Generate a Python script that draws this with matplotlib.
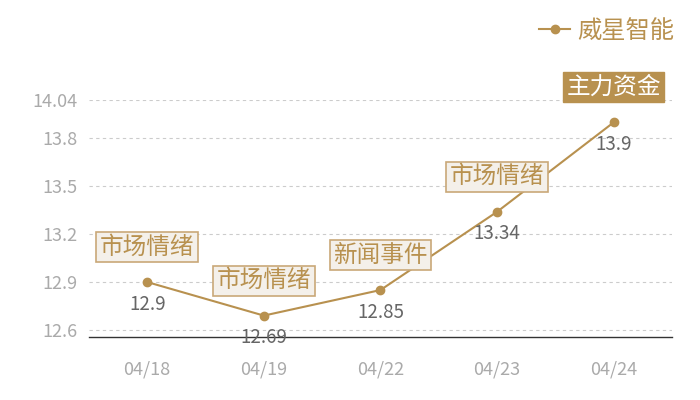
import matplotlib
matplotlib.use("Agg")
import matplotlib.pyplot as plt

plt.rcParams['font.family'] = ['Noto Sans CJK SC', 'DejaVu Sans']

# data
dates = ["04/18", "04/19", "04/22", "04/23", "04/24"]
prices = [12.9, 12.69, 12.85, 13.34, 13.9]
events = ["市场情绪", "市场情绪", "新闻事件", "市场情绪", "主力资金"]
highlight = [False, False, False, False, True]
yticks = [12.6, 12.9, 13.2, 13.5, 13.8, 14.04]
series_name = "威星智能"

gold = "#b8914f"

fig = plt.figure(figsize=(7, 4), dpi=100)
ax = fig.add_axes([0.127, 0.1575, 0.833, 0.5925])

x = list(range(len(dates)))
ax.plot(x, prices, color=gold, lw=1.5, marker="o", ms=6, label=series_name, zorder=3)

# value labels under points
for xi, v in zip(x, prices):
    ax.annotate(f"{v:g}", (xi, v), xytext=(0, -22), textcoords="offset pixels",
                ha="center", va="center", fontsize=13.5, color="#666666", zorder=4)

# event boxes above points
for xi, v, ev, hl in zip(x, prices, events, highlight):
    if hl:
        box = dict(boxstyle="square,pad=0.15", fc=gold, ec=gold, lw=1)
        tc = "white"
    else:
        box = dict(boxstyle="square,pad=0.15", fc="#f4f0ea", ec="#c9a878", lw=1.2)
        tc = gold
    ax.annotate(ev, (xi, v), xytext=(0, 35), textcoords="offset pixels",
                ha="center", va="center", fontsize=17, color=tc, bbox=box, zorder=5)

ax.set_xlim(-0.5, len(dates) - 0.5)
ax.set_ylim(12.556, 14.04)
ax.set_xticks(x)
ax.set_xticklabels(dates)
ax.set_yticks(yticks)
ax.set_yticklabels([f"{t:g}" for t in yticks])
ax.tick_params(axis="both", length=0, colors="#aaaaaa", labelsize=13)
ax.tick_params(axis="x", pad=17)
ax.tick_params(axis="y", pad=8)
ax.grid(axis="y", color="#cccccc", ls=(0, (3, 3)), lw=0.8)
ax.set_axisbelow(True)
for s in ["top", "right", "left"]:
    ax.spines[s].set_visible(False)
ax.spines["bottom"].set_color("#333333")
ax.spines["bottom"].set_linewidth(1)

leg = fig.legend(loc="upper right", bbox_to_anchor=(0.995, 1.01), frameon=False,
                 fontsize=17.5, handlelength=1.3, handletextpad=0.3)
for t in leg.get_texts():
    t.set_color(gold)

fig.savefig("out.png", dpi=100)
